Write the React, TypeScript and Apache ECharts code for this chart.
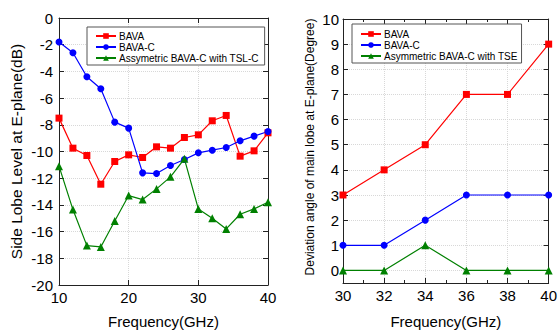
import React, { useEffect, useRef } from "react";
import * as echarts from "echarts";

// Left chart: side lobe level vs frequency
const freqLeft = [10, 12, 14, 16, 18, 20, 22, 24, 26, 28, 30, 32, 34, 36, 38, 40];
const slBAVA = [-7.5, -9.75, -10.3, -12.45, -10.75, -10.25, -10.45, -9.65, -9.75, -8.95, -8.75, -7.7, -7.3, -10.35, -9.95, -8.6];
const slBAVAC = [-1.8, -2.6, -4.4, -5.3, -7.8, -8.25, -11.6, -11.65, -11.05, -10.6, -10.1, -9.9, -9.7, -9.2, -8.85, -8.5];
const slAsym = [-11.1, -14.35, -17.05, -17.15, -15.2, -13.3, -13.6, -12.8, -11.9, -10.55, -14.3, -15.0, -15.8, -14.7, -14.3, -13.8];

// Right chart: deviation angle of main lobe vs frequency
const freqRight = [30, 32, 34, 36, 38, 40];
const devBAVA = [3, 4, 5, 7, 7, 9];
const devBAVAC = [1, 1, 2, 3, 3, 3];
const devAsym = [0, 0, 1, 0, 0, 0];

const leftNames = ["BAVA", "BAVA-C", "Assymetric BAVA-C with TSL-C"];
const rightNames = ["BAVA", "BAVA-C", "Asymmetric BAVA-C with TSE"];

const FONT = "'Liberation Sans', Arial, Helvetica, sans-serif";
const RED = "#ff0000";
const BLUE = "#0000ff";
const GREEN = "#008000";
const AXIS = "#222";

export default function App() {
  const ref = useRef<HTMLDivElement>(null);
  useEffect(() => {
    if (!ref.current) return;
    const chart = echarts.init(ref.current, undefined, { renderer: "svg" });
    const zip = (xs: number[], ys: number[]) => xs.map((x, i) => [x, ys[i]]);

    const axisLine = { show: true, onZero: false, lineStyle: { color: AXIS, width: 1 } };
    const tick = { show: true, inside: true, length: 5, lineStyle: { color: AXIS } };
    const split = { show: true, lineStyle: { color: "#d8d8d8", type: "dotted", width: 1 } };
    const label = { color: "#000", fontSize: 15, fontFamily: FONT };

    const mkSeries = (
      name: string,
      data: number[][],
      color: string,
      symbol: string,
      size: number,
      xi: number,
      yi: number
    ) => ({
      type: "line",
      name,
      data,
      xAxisIndex: xi,
      yAxisIndex: yi,
      symbol,
      symbolSize: size,
      clip: false,
      itemStyle: { color },
      lineStyle: { color, width: 1.2 },
    });

    const legendBase = {
      orient: "vertical",
      itemWidth: 20,
      itemHeight: 7,
      itemGap: 1,
      backgroundColor: "#fff",
      borderColor: "#555",
      borderWidth: 1,
      borderRadius: 0,
      selectedMode: false,
      textStyle: { fontSize: 10, fontFamily: FONT, color: "#000", lineHeight: 10, padding: [0, 0, 0, -2] },
    };

    chart.setOption({
      animation: false,
      backgroundColor: "#fff",
      textStyle: { fontFamily: FONT },
      grid: [
        { left: 59, right: 292, top: 18, bottom: 49 },
        { left: 343, right: 8, top: 19, bottom: 49 },
      ],
      legend: [
        { ...legendBase, data: leftNames, left: 87, top: 27, padding: [4, 6, 2, 8] },
        { ...legendBase, data: rightNames, left: 352, top: 24, padding: [5, 4, 2, 8] },
      ],
      xAxis: [
        {
          type: "value", gridIndex: 0, min: 10, max: 40, interval: 10, position: "bottom",
          axisLine, axisTick: tick, splitLine: split,
          axisLabel: { ...label, margin: 5 },
          name: "Frequency(GHz)", nameLocation: "middle", nameGap: 29,
          nameTextStyle: { fontSize: 15, fontFamily: FONT, color: "#000" },
        },
        {
          type: "value", gridIndex: 0, min: 10, max: 40, interval: 10, position: "top",
          axisLine, axisTick: tick, splitLine: { show: false }, axisLabel: { show: false },
        },
        {
          type: "value", gridIndex: 1, min: 30, max: 40, interval: 2, position: "bottom",
          axisLine, axisTick: tick, splitLine: split,
          minorTick: { show: true, splitNumber: 2, length: 3, lineStyle: { color: AXIS } },
          axisLabel: { ...label, margin: 5 },
          name: "Frequency(GHz)", nameLocation: "middle", nameGap: 31,
          nameTextStyle: { fontSize: 15, fontFamily: FONT, color: "#000" },
        },
        {
          type: "value", gridIndex: 1, min: 30, max: 40, interval: 2, position: "top",
          axisLine, axisTick: tick, splitLine: { show: false }, axisLabel: { show: false },
          minorTick: { show: true, splitNumber: 2, length: 3, lineStyle: { color: AXIS } },
        },
      ],
      yAxis: [
        {
          type: "value", gridIndex: 0, min: -20, max: 0, interval: 2, position: "left",
          axisLine, axisTick: tick, splitLine: split,
          axisLabel: { ...label, margin: 6 },
          name: "Side Lobe Level at E-plane(dB)", nameLocation: "middle", nameGap: 35,
          nameTextStyle: { fontSize: 15.5, fontFamily: FONT, color: "#000" },
        },
        {
          type: "value", gridIndex: 0, min: -20, max: 0, interval: 2, position: "right",
          axisLine, axisTick: tick, splitLine: { show: false }, axisLabel: { show: false },
        },
        {
          type: "value", gridIndex: 1, min: -0.5, max: 10, splitNumber: 10, position: "left",
          axisLine, axisTick: tick, splitLine: split,
          axisLabel: { ...label, margin: 4, showMinLabel: false },
          name: "Deviation angle of main lobe at E-plane(Degree)", nameLocation: "middle", nameGap: 27,
          nameTextStyle: { fontSize: 12, fontFamily: FONT, color: "#000", padding: [0, 0, 0, 8] },
        },
        {
          type: "value", gridIndex: 1, min: -0.5, max: 10, splitNumber: 10, position: "right",
          axisLine, axisTick: tick, splitLine: { show: false }, axisLabel: { show: false },
        },
      ],
      series: [
        mkSeries(leftNames[0], zip(freqLeft, slBAVA), RED, "rect", 7, 0, 0),
        mkSeries(leftNames[1], zip(freqLeft, slBAVAC), BLUE, "circle", 7, 0, 0),
        mkSeries(leftNames[2], zip(freqLeft, slAsym), GREEN, "triangle", 8, 0, 0),
        mkSeries(rightNames[0], zip(freqRight, devBAVA), RED, "rect", 7, 2, 2),
        mkSeries(rightNames[1], zip(freqRight, devBAVAC), BLUE, "circle", 7, 2, 2),
        mkSeries(rightNames[2], zip(freqRight, devAsym), GREEN, "triangle", 8, 2, 2),
      ],
    });
    return () => chart.dispose();
  }, []);

  return (
    <div
      ref={ref}
      style={{ position: "absolute", left: 0, top: 0, width: 560, height: 334 }}
    />
  );
}
